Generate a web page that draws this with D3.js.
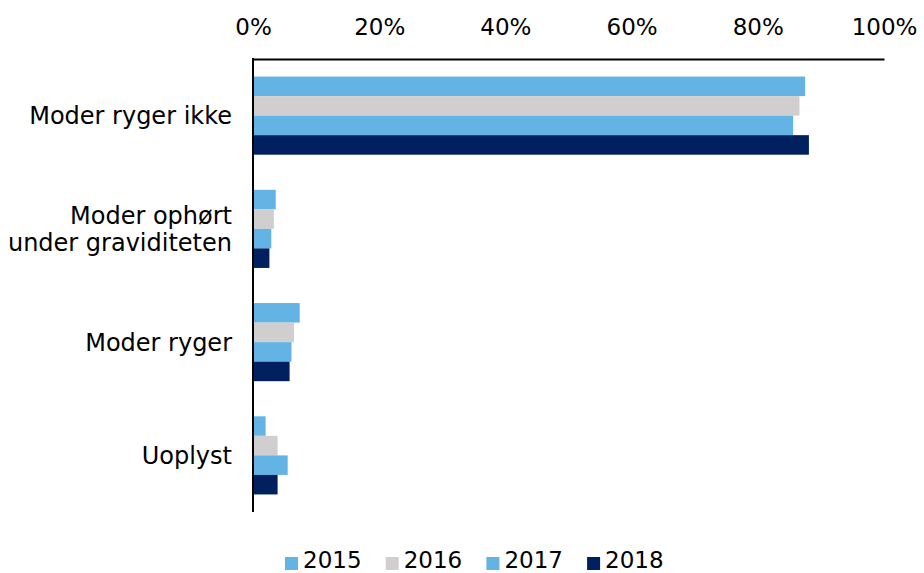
<!DOCTYPE html>
<html>
<head>
<meta charset="utf-8">
<script src="https://cdn.jsdelivr.net/npm/d3@7"></script>
<style>
  body { margin: 0; background: #fff; }
  text { font-family: "DejaVu Sans", Verdana, sans-serif; fill: #000; }
</style>
</head>
<body>
<script>
var w = 924;
var h = 573;

// data (share of births)
var categories = ["Moder ryger ikke", "Moder ophørt under graviditeten", "Moder ryger", "Uoplyst"];
var catLines = [["Moder ryger ikke"], ["Moder ophørt", "under graviditeten"], ["Moder ryger"], ["Uoplyst"]];
var years = ["2015", "2016", "2017", "2018"];
var v2015 = [0.875, 0.036, 0.074, 0.020];
var v2016 = [0.866, 0.033, 0.065, 0.039];
var v2017 = [0.856, 0.029, 0.061, 0.055];
var v2018 = [0.881, 0.026, 0.058, 0.039];
var colors = ["#63b4e5", "#d0cecf", "#63b4e5", "#002060"];
var ticks = [0, 0.2, 0.4, 0.6, 0.8, 1];

var series = [v2015, v2016, v2017, v2018];

var svg = d3.select("body").append("svg")
  .attr("width", w)
  .attr("height", h);

var x = d3.scaleLinear()
  .domain([0, 1])
  .range([253, 884]);

var y = d3.scaleBand()
  .domain(categories)
  .range([59, 512])
  .paddingInner(0.31)
  .paddingOuter(0.155);

var yInner = d3.scaleBand()
  .domain(years)
  .range([0, y.bandwidth()]);

// top axis
var xAxis = d3.axisTop(x)
  .tickValues(ticks)
  .tickSize(0)
  .tickPadding(24)
  .tickFormat(d3.format(".0%"));

var ax = svg.append("g")
  .attr("transform", "translate(0,59)")
  .call(xAxis);
ax.select(".domain").attr("stroke", "#000").attr("stroke-width", 2);
ax.selectAll("text").style("font-size", "23px");

// bars
var g = svg.selectAll("g.cat")
  .data(categories)
  .join("g")
  .attr("class", "cat")
  .attr("transform", function (d) {
    return "translate(0," + y(d) + ")";
  });

g.selectAll("rect")
  .data(function (d, i) {
    return years.map(function (yr, j) {
      return { year: yr, value: series[j][i], color: colors[j] };
    });
  })
  .join("rect")
  .attr("x", x(0))
  .attr("y", function (d) { return yInner(d.year); })
  .attr("width", function (d) { return x(d.value) - x(0); })
  .attr("height", yInner.bandwidth())
  .attr("fill", function (d) { return d.color; });

// vertical axis line
svg.append("line")
  .attr("x1", x(0)).attr("x2", x(0))
  .attr("y1", 58).attr("y2", 512)
  .attr("stroke", "#000")
  .attr("stroke-width", 2);

// category labels
var lab = svg.selectAll("text.cat")
  .data(categories)
  .join("text")
  .attr("class", "cat")
  .attr("text-anchor", "end")
  .attr("x", 232)
  .attr("y", function (d) { return y(d) + y.bandwidth() / 2; })
  .style("font-size", "24px");

lab.each(function (d, i) {
  var lines = catLines[i];
  var t = d3.select(this);
  lines.forEach(function (l, k) {
    t.append("tspan")
      .attr("x", 232)
      .attr("dy", k === 0 ? (0.35 - (lines.length - 1) * 0.5625) + "em" : "1.125em")
      .text(l);
  });
});

// legend
var leg = svg.append("g")
  .attr("transform", "translate(285,562)");

var item = leg.selectAll("g")
  .data(years)
  .join("g")
  .attr("transform", function (d, i) {
    return "translate(" + (i * 100.7) + ",0)";
  });

item.append("rect")
  .attr("x", 0)
  .attr("y", -5)
  .attr("width", 13)
  .attr("height", 13)
  .attr("fill", function (d, i) { return colors[i]; });

item.append("text")
  .attr("x", 18)
  .attr("y", 6)
  .style("font-size", "23px")
  .text(function (d) { return d; });
</script>
</body>
</html>
